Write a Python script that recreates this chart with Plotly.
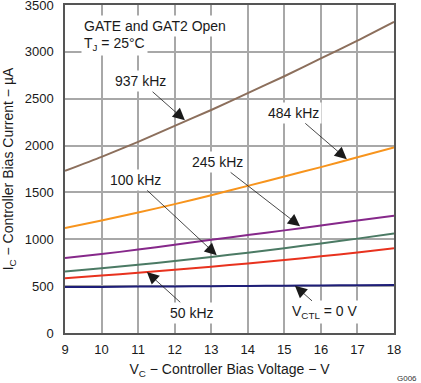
import plotly.graph_objects as go

vc = [9, 10, 11, 12, 13, 14, 15, 16, 17, 18]
i_937 = [1730, 1880, 2040, 2210, 2380, 2560, 2740, 2930, 3120, 3320]
i_484 = [1120, 1200, 1285, 1375, 1470, 1570, 1670, 1770, 1875, 1980]
i_245 = [800, 842, 890, 942, 995, 1045, 1095, 1148, 1200, 1252]
i_100 = [655, 690, 728, 768, 812, 857, 905, 955, 1007, 1062]
i_50 = [585, 613, 643, 675, 708, 742, 778, 818, 860, 905]
i_0 = [490, 492, 495, 497, 500, 502, 505, 507, 510, 513]

x_ticks = [9, 10, 11, 12, 13, 14, 15, 16, 17, 18]
y_ticks = [0, 500, 1000, 1500, 2000, 2500, 3000, 3500]

FONT = "Arial, Liberation Sans, sans-serif"

series = [
    (i_937, "#8c6f5c", "937 kHz"),
    (i_484, "#f7941d", "484 kHz"),
    (i_245, "#86288a", "245 kHz"),
    (i_100, "#4b7a64", "100 kHz"),
    (i_50, "#e8321e", "50 kHz"),
    (i_0, "#1e1e78", "VCTL = 0 V"),
]

fig = go.Figure()
for ys, col, name in series:
    fig.add_trace(go.Scatter(x=vc, y=ys, mode="lines", name=name,
                             line=dict(color=col, width=2, shape="spline", smoothing=0.6),
                             showlegend=False, hoverinfo="skip"))

# labels with arrows: (text, text_x, text_y, tip_x, tip_y)
labels = [
    ("937 kHz", 11.07, 2686, 12.28, 2270),
    ("484 kHz", 15.24, 2349, 16.71, 1855),
    ("245 kHz", 13.16, 1826, 15.43, 1140),
    ("100 kHz", 10.94, 1634, 13.15, 830),
    ("50 kHz", 12.47, 216, 11.24, 650),
    ("V<sub>CTL</sub> = 0 V", 16.11, 220, 15.29, 505),
]
for txt, tx, ty, px, py in labels:
    fig.add_annotation(x=px, y=py, ax=tx, ay=ty, axref="x", ayref="y",
                       xref="x", yref="y", text=txt, showarrow=True,
                       arrowhead=2, arrowsize=3.0, arrowwidth=0.8,
                       arrowcolor="#1a1a1a", bgcolor="white", borderpad=2,
                       font=dict(family=FONT, size=14, color="#1a1a1a"))

fig.add_annotation(x=9.44, y=3276, xref="x", yref="y", xanchor="left",
                   text="GATE and GAT2 Open", showarrow=False, bgcolor="white",
                   borderpad=2, font=dict(family=FONT, size=14, color="#1a1a1a"))
fig.add_annotation(x=9.44, y=3084, xref="x", yref="y", xanchor="left",
                   text="T<sub>J</sub> = 25°C", showarrow=False, bgcolor="white",
                   borderpad=2, font=dict(family=FONT, size=14, color="#1a1a1a"))
fig.add_annotation(x=1, y=0, xref="paper", yref="paper", xanchor="right",
                   yanchor="middle", xshift=25, yshift=-45, text="G006",
                   showarrow=False, font=dict(family=FONT, size=8, color="#333"))

fig.update_xaxes(range=[9, 18], tickvals=x_ticks, ticktext=[str(v) for v in x_ticks],
                 showgrid=True, gridcolor="#a8a8a8", gridwidth=1.5,
                 showline=True, linecolor="#555", linewidth=1.5, mirror=True,
                 ticks="outside", ticklen=4, tickcolor="rgba(0,0,0,0)",
                 tickfont=dict(family=FONT, size=13, color="#1a1a1a"),
                 zeroline=False, automargin=False, ticklabeloverflow="allow",
                 title=dict(text="V<sub>C</sub> − Controller Bias Voltage − V",
                            font=dict(family=FONT, size=14, color="#1a1a1a"),
                            standoff=8))
fig.update_yaxes(range=[0, 3500], tickvals=y_ticks, ticktext=[str(v) for v in y_ticks],
                 showgrid=True, gridcolor="#a8a8a8", gridwidth=1.5,
                 showline=True, linecolor="#555", linewidth=1.5, mirror=True,
                 ticks="outside", ticklen=7, tickcolor="rgba(0,0,0,0)",
                 tickfont=dict(family=FONT, size=13, color="#1a1a1a"),
                 zeroline=False, automargin=False, ticklabeloverflow="allow",
                 title=dict(text="I<sub>C</sub> − Controller Bias Current − µA",
                            font=dict(family=FONT, size=14, color="#1a1a1a"),
                            standoff=8))

fig.update_layout(width=421, height=383,
                  margin=dict(l=65, r=27, t=5, b=50),
                  paper_bgcolor="white", plot_bgcolor="white",
                  font=dict(family=FONT))

fig.write_html("out.html", config={"displayModeBar": False},
               post_script="document.body.style.margin='0';document.body.style.overflow='hidden';")
